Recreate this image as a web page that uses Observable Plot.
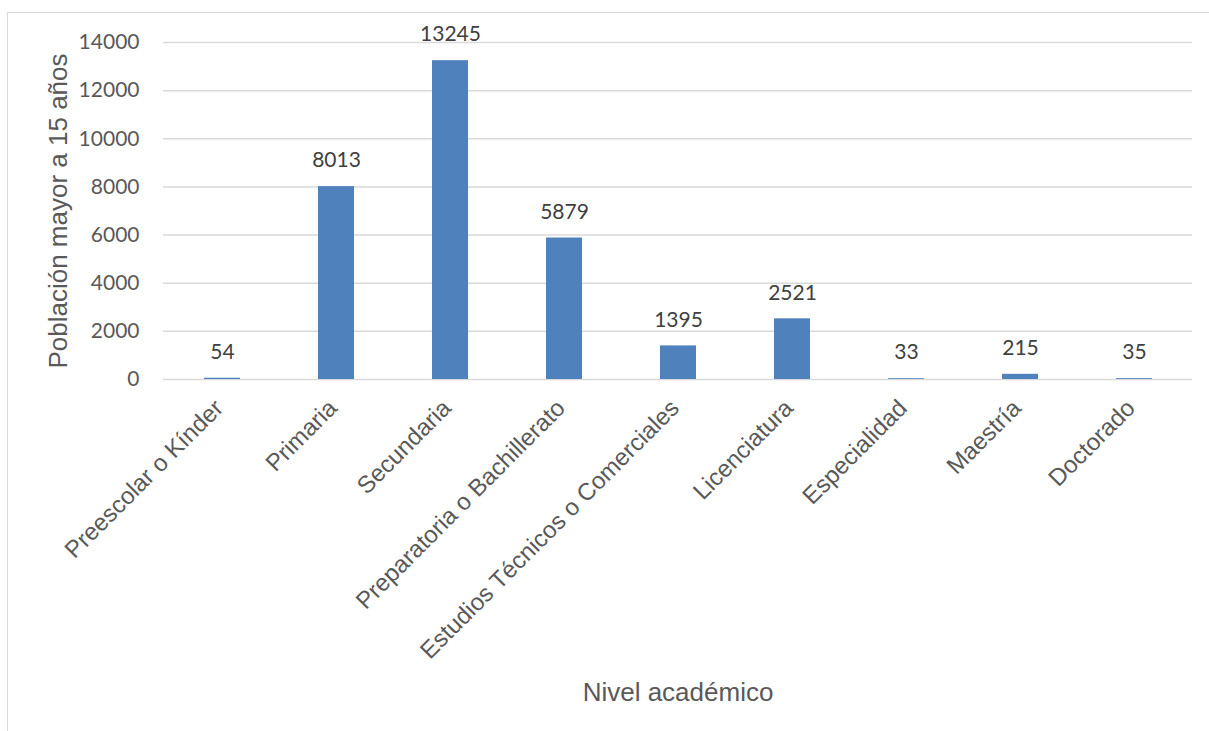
<!DOCTYPE html>
<html>
<head>
<meta charset="utf-8">
<script src="https://cdn.jsdelivr.net/npm/d3@7"></script>
<script src="https://cdn.jsdelivr.net/npm/@observablehq/plot@0.6"></script>
<style>
  html, body { margin: 0; padding: 0; background: #fff; overflow: hidden; }
  #wrap { position: relative; width: 1209px; height: 731px; }
  #border { position: absolute; left: 7px; top: 12px; width: 1300px; height: 800px;
            border: 1.5px solid #d9d9d9; box-sizing: border-box; }
  #chart { position: absolute; left: 0; top: 0; }
</style>
</head>
<body>
<div id="wrap"><div id="border"></div><div id="chart"></div></div>
<script>
const categories = ["Preescolar o Kínder", "Primaria", "Secundaria", "Preparatoria o Bachillerato",
  "Estudios Técnicos o Comerciales", "Licenciatura", "Especialidad", "Maestría", "Doctorado"];
const values = [54, 8013, 13245, 5879, 1395, 2521, 33, 215, 35];
const yTicks = [0, 2000, 4000, 6000, 8000, 10000, 12000, 14000];
const yTitle = "Población mayor a 15 años";
const xTitle = "Nivel académico";

const data = categories.map((c, i) => ({cat: c, val: values[i]}));

const chart = Plot.plot({
  width: 1209,
  height: 731,
  marginLeft: 163,
  marginRight: 17,
  marginTop: 42,
  marginBottom: 352,
  style: {background: "transparent", overflow: "visible"},
  x: {domain: categories, paddingInner: 0.685, paddingOuter: 0.3425, label: null, axis: null},
  y: {domain: [0, 14000], label: null, axis: null},
  marks: [
    Plot.gridY(yTicks, {stroke: "#d9d9d9", strokeOpacity: 1, strokeWidth: 1.5}),
    Plot.barY(data, {x: "cat", y: "val", fill: "#4F81BD"}),
    Plot.text(data, {x: "cat", y: "val", text: d => String(d.val), dy: -26,
      fontFamily: "Lato", fontSize: 21, fill: "#404040", lineAnchor: "middle"}),
    Plot.axisY(yTicks, {tickSize: 0, tickPadding: 24, fontFamily: "Lato", fontSize: 21,
      color: "#595959", tickFormat: d => String(d), label: null}),
    Plot.text(categories, {x: d => d, frameAnchor: "bottom", rotate: -45, textAnchor: "end",
      lineAnchor: "top", dy: 18, dx: -10, fontFamily: "Liberation Sans", fontSize: 24, fill: "#595959"}),
    Plot.text([yTitle], {frameAnchor: "left", dx: -105, rotate: -90, textAnchor: "middle",
      fontFamily: "Liberation Sans", fontSize: 26, fill: "#595959", lineAnchor: "middle"}),
    Plot.text([xTitle], {frameAnchor: "bottom", dy: 313, fontFamily: "Liberation Sans",
      fontSize: 26, fill: "#595959", lineAnchor: "middle"})
  ]
});
document.getElementById("chart").appendChild(chart);
</script>
</body>
</html>
